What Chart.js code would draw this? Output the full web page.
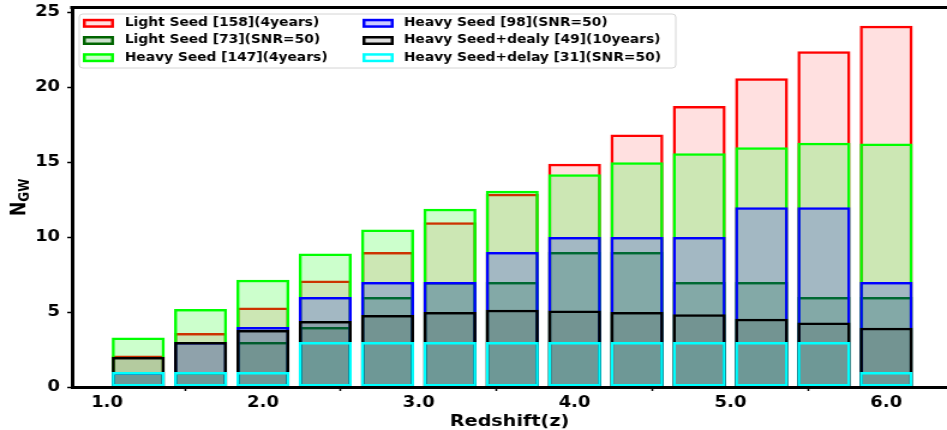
<!DOCTYPE html>
<html>
<head>
<meta charset="utf-8">
<title>N_GW vs redshift</title>
<script src="https://cdn.jsdelivr.net/npm/chart.js@4.4.1/dist/chart.umd.min.js"></script>
<style>
  html, body { margin: 0; padding: 0; background: #fff; overflow: hidden; }
</style>
</head>
<body>
<!-- drawn on a narrower canvas and stretched wide, like the original figure -->
<canvas id="gw-chart" width="789" height="430" style="display:block;width:947px;height:430px"></canvas>
<script>
    "use strict";

    // redshift bin centres
    var redshift = [1.2, 1.6, 2.0, 2.4, 2.8, 3.2, 3.6, 4.0, 4.4, 4.8, 5.2, 5.6, 6.0];

    // expected detections per bin
    var lightSeed4yr   = [2.1, 3.6, 5.3, 7.1, 9.0, 11.0, 12.9, 14.9, 16.85, 18.75, 20.6, 22.4, 24.1];
    var lightSeedSnr   = [1, 1, 3, 4, 6, 7, 7, 9, 9, 7, 7, 6, 6];
    var heavySeed4yr   = [3.3, 5.2, 7.15, 8.9, 10.5, 11.9, 13.1, 14.2, 15.0, 15.6, 16.0, 16.3, 16.25];
    var heavySeedSnr   = [1, 3, 4, 6, 7, 7, 9, 10, 10, 10, 12, 12, 7];
    var heavyDelay10yr = [2.0, 3.0, 3.8, 4.4, 4.8, 5.0, 5.15, 5.1, 5.0, 4.85, 4.55, 4.3, 3.95];
    var heavyDelaySnr  = [1, 1, 1, 3, 3, 3, 3, 3, 3, 3, 3, 3, 1];

    var seriesLabels = [
        "Light Seed [158](4years)",
        "Light Seed [73](SNR=50)",
        "Heavy Seed [147](4years)",
        "Heavy Seed [98](SNR=50)",
        "Heavy Seed+dealy [49](10years)",
        "Heavy Seed+delay [31](SNR=50)"
    ];
    var seriesValues = [lightSeed4yr, lightSeedSnr, heavySeed4yr, heavySeedSnr, heavyDelay10yr, heavyDelaySnr];
    var edgeColors = ["#ff0000", "#006400", "#00ff00", "#0000ff", "#000000", "#00ffff"];
    var fillColors = [
        "rgba(255, 0, 0, .12)",
        "rgba(0, 100, 0, .2)",
        "rgba(0, 255, 0, .2)",
        "rgba(0, 0, 255, .2)",
        "rgba(0, 0, 0, .12)",
        "rgba(0, 255, 255, .04)"
    ];

    var FONT = "'DejaVu Sans', sans-serif";

    var datasets = seriesValues.map(function (vals, i) {
        return {
            label: seriesLabels[i],
            data: redshift.map(function (z, j) { return {x: z, y: vals[j]}; }),
            borderColor: edgeColors[i],
            backgroundColor: fillColors[i],
            borderWidth: 2.5,
            borderSkipped: false,
            grouped: false,
            categoryPercentage: 1,
            barPercentage: 0.85,
            // later series sit on top
            order: seriesValues.length - i
        };
    });

    // top spine
    var frame = {
        id: "frame",
        afterDatasetsDraw: function (chart) {
            var ctx = chart.ctx, a = chart.chartArea;
            ctx.save();
            ctx.strokeStyle = "#000";
            ctx.lineWidth = 3;
            ctx.beginPath();
            ctx.moveTo(a.left - 1.5, a.top);
            ctx.lineTo(a.right + 2, a.top);
            ctx.stroke();
            ctx.restore();
        }
    };

    // y title with subscript
    var yTitle = {
        id: "yTitle",
        afterDraw: function (chart) {
            var ctx = chart.ctx, a = chart.chartArea;
            ctx.save();
            ctx.translate(14, (a.top + a.bottom) / 2);
            ctx.rotate(-Math.PI / 2);
            ctx.fillStyle = "#000";
            ctx.textBaseline = "alphabetic";
            ctx.font = "bold 17px " + FONT;
            var wN = ctx.measureText("N").width;
            ctx.font = "bold 12px " + FONT;
            var wS = ctx.measureText("GW").width;
            var x = -(wN + wS) / 2;
            ctx.font = "bold 17px " + FONT;
            ctx.fillText("N", x, 7);
            ctx.font = "bold 12px " + FONT;
            ctx.fillText("GW", x + wN, 10);
            ctx.restore();
        }
    };

    // two-column legend box in the upper left
    var legendBox = {
        id: "legendBox",
        afterDraw: function (chart) {
            var ctx = chart.ctx;
            var sets = chart.data.datasets;
            ctx.save();
            ctx.beginPath();
            ctx.roundRect(66, 14, 497, 54, 3);
            ctx.fillStyle = "rgba(255, 255, 255, .8)";
            ctx.fill();
            ctx.strokeStyle = "#d4d4d4";
            ctx.lineWidth = 1;
            ctx.stroke();
            ctx.font = "bold 11.5px " + FONT;
            ctx.textBaseline = "middle";
            sets.forEach(function (ds, i) {
                var col = Math.floor(i / 3), row = i % 3;
                var sx = col ? 302 : 69;
                var tx = col ? 336.5 : 104;
                var cy = 23.3 + row * 17.2;
                ctx.fillStyle = ds.backgroundColor;
                ctx.fillRect(sx + 1.25, cy - 3.25, 23.5, 6.5);
                ctx.strokeStyle = ds.borderColor;
                ctx.lineWidth = 2.5;
                ctx.strokeRect(sx + 1.25, cy - 3.25, 23.5, 6.5);
                ctx.fillStyle = "#000";
                ctx.fillText(ds.label, tx, cy);
            });
            ctx.restore();
        }
    };

    var ctxGw = document.getElementById("gw-chart").getContext("2d");
    var gwChart = new Chart(ctxGw, {
        type: "bar",
        data: {datasets: datasets},
        plugins: [frame, yTitle, legendBox],
        options: {
            responsive: false,
            animation: false,
            devicePixelRatio: 1,
            layout: {padding: {top: 7.5, left: 0, right: 0, bottom: 0}},
            plugins: {
                legend: {display: false},
                tooltip: {enabled: false}
            },
            scales: {
                x: {
                    type: "linear",
                    offset: false,
                    min: 0.775,
                    max: 6.39,
                    afterFit: function (scale) {
                        scale.height = 43;
                        scale.paddingLeft = 0;
                        scale.paddingRight = 0;
                    },
                    ticks: {
                        stepSize: 1,
                        includeBounds: false,
                        padding: 3,
                        color: "#000",
                        font: {family: FONT, size: 15, weight: "bold", lineHeight: 1.2},
                        callback: function (v) { return v.toFixed(1); }
                    },
                    grid: {drawOnChartArea: false, drawTicks: true, tickLength: 4, tickColor: "#000", tickWidth: 1.5},
                    border: {display: true, color: "#000", width: 3, z: 1},
                    title: {
                        display: true,
                        text: "Redshift(z)",
                        color: "#000",
                        padding: {top: 0, bottom: 0},
                        font: {family: FONT, size: 16, weight: "bold", lineHeight: 1}
                    }
                },
                y: {
                    min: 0,
                    max: 25.32,
                    afterFit: function (scale) {
                        scale.width = 60;
                        scale.paddingTop = 0;
                        scale.paddingBottom = 0;
                    },
                    ticks: {
                        stepSize: 5,
                        includeBounds: false,
                        padding: 6,
                        color: "#000",
                        font: {family: FONT, size: 15, weight: "bold", lineHeight: 1}
                    },
                    grid: {drawOnChartArea: false, drawTicks: true, tickLength: 4, tickColor: "#000", tickWidth: 1.5},
                    border: {display: true, color: "#000", width: 3, z: 1}
                }
            }
        }
    });
</script>
</body>
</html>
